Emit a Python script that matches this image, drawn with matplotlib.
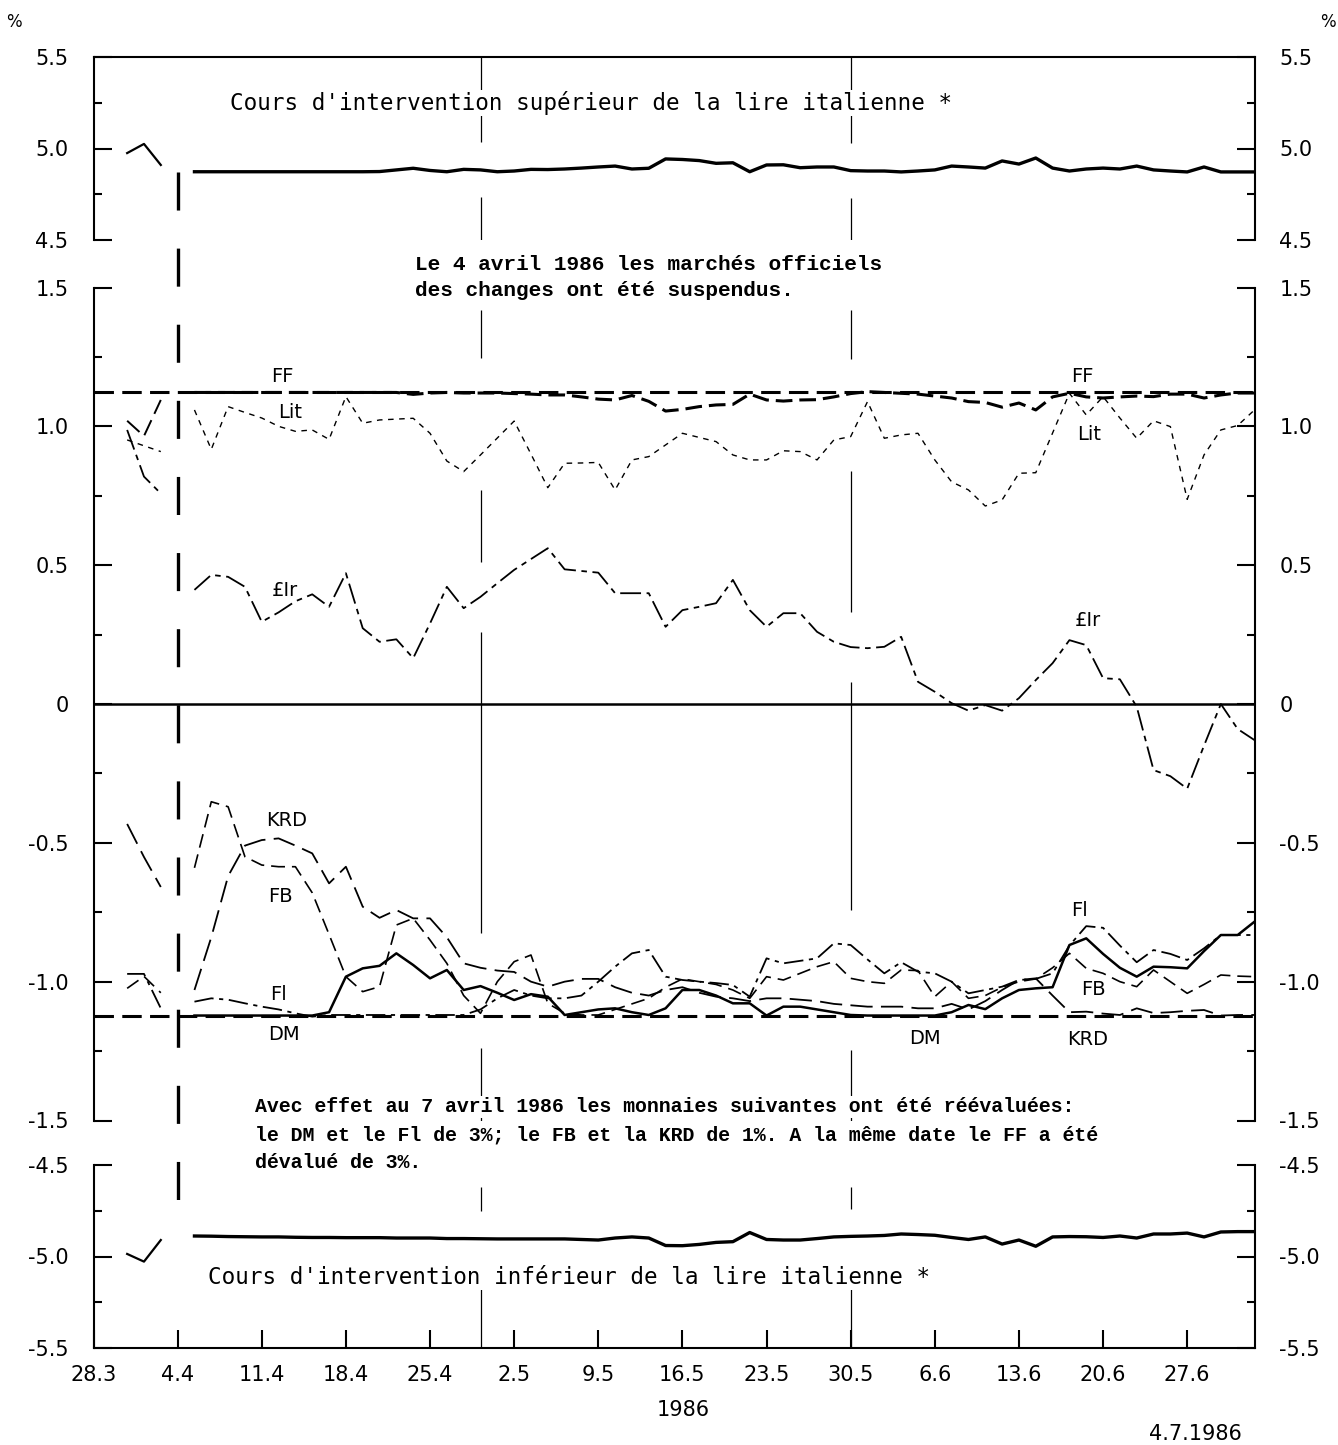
import numpy as np
import matplotlib
matplotlib.use('Agg')
import matplotlib.pyplot as plt
import matplotlib.transforms as mtransforms
from matplotlib.lines import Line2D

plt.rcParams['lines.scale_dashes'] = False
plt.rcParams['font.family'] = ['DejaVu Sans']

# ---------------- data (x = business-day index, 0 = 28.3.1986) ----------------
tick_idx = list(range(0, 70, 5))
tick_labels = ["28.3", "4.4", "11.4", "18.4", "25.4", "2.5", "9.5", "16.5",
               "23.5", "30.5", "6.6", "13.6", "20.6", "27.6"]
month_end_idx = [23, 45]
suspension_idx = 5
pre_idx = [2, 3, 4]
post_idx = list(range(6, 70))

top_yticks = [4.5, 5.0, 5.5]
top_ylabels = ["4.5", "5.0", "5.5"]
mid_yticks = [-1.5, -1.0, -0.5, 0.0, 0.5, 1.0, 1.5]
mid_ylabels = ["-1.5", "-1.0", "-0.5", "0", "0.5", "1.0", "1.5"]
bot_yticks = [-5.5, -5.0, -4.5]
bot_ylabels = ["-5.5", "-5.0", "-4.5"]
band_limit = 1.125

upper_pre = [4.975, 5.025, 4.91]
upper_post = [4.873] * 11 + [
    4.874, 4.883, 4.892, 4.880, 4.873, 4.886, 4.883, 4.873, 4.877, 4.886,
    4.885, 4.888, 4.893, 4.899, 4.904, 4.888, 4.892, 4.943, 4.940, 4.934,
    4.919, 4.922, 4.873, 4.910, 4.911, 4.895, 4.899, 4.899, 4.879, 4.877,
    4.877, 4.872, 4.877, 4.883, 4.904, 4.899, 4.893, 4.932, 4.915, 4.948,
    4.893, 4.877, 4.888, 4.893, 4.888, 4.904, 4.883, 4.877, 4.872, 4.899,
    4.872, 4.872, 4.872]
lower_pre = [-4.986, -5.028, -4.910]
lower_post = [
    -4.888, -4.889, -4.891, -4.892, -4.893, -4.893, -4.895, -4.896, -4.896, -4.897,
    -4.897, -4.897, -4.899, -4.899, -4.899, -4.902, -4.902, -4.903, -4.904, -4.904,
    -4.904, -4.904, -4.904, -4.907, -4.910, -4.899, -4.893, -4.899, -4.940, -4.941,
    -4.934, -4.923, -4.919, -4.869, -4.907, -4.910, -4.910, -4.902, -4.893, -4.890,
    -4.888, -4.885, -4.877, -4.880, -4.884, -4.896, -4.907, -4.893, -4.932, -4.910,
    -4.944, -4.893, -4.891, -4.892, -4.896, -4.888, -4.899, -4.877, -4.877, -4.872,
    -4.893, -4.866, -4.864, -4.864]

ff_pre = [1.020, 0.965, 1.095]
ff_post = [1.122] * 13 + [
    1.115, 1.120, 1.122, 1.120, 1.120, 1.120, 1.118, 1.116, 1.113, 1.113,
    1.106, 1.098, 1.095, 1.111, 1.090, 1.055, 1.061, 1.071, 1.077, 1.079,
    1.116, 1.095, 1.091, 1.095, 1.096, 1.106, 1.118, 1.125, 1.122, 1.119,
    1.116, 1.109, 1.102, 1.089, 1.086, 1.069, 1.084, 1.059, 1.106, 1.119,
    1.106, 1.102, 1.106, 1.109, 1.107, 1.116, 1.116, 1.102, 1.113, 1.120,
    1.120]
lit_pre = [0.951, 0.930, 0.909]
lit_post = [
    1.059, 0.917, 1.071, 1.050, 1.030, 1.000, 0.982, 0.987, 0.953, 1.107,
    1.011, 1.023, 1.026, 1.029, 0.975, 0.875, 0.837, 0.897, 0.958, 1.019,
    0.900, 0.779, 0.867, 0.868, 0.870, 0.771, 0.879, 0.891, 0.933, 0.975,
    0.960, 0.945, 0.897, 0.879, 0.879, 0.912, 0.909, 0.879, 0.951, 0.963,
    1.089, 0.957, 0.969, 0.975, 0.879, 0.800, 0.771, 0.713, 0.735, 0.831,
    0.833, 0.976, 1.119, 1.041, 1.107, 1.030, 0.957, 1.020, 0.999, 0.737,
    0.897, 0.987, 1.003, 1.059]
ir_pre = [0.987, 0.819, 0.758]
ir_post = [
    0.411, 0.465, 0.458, 0.422, 0.296, 0.330, 0.370, 0.395, 0.350, 0.471,
    0.273, 0.224, 0.233, 0.165, 0.290, 0.422, 0.345, 0.386, 0.435, 0.483,
    0.522, 0.561, 0.485, 0.479, 0.473, 0.399, 0.399, 0.399, 0.278, 0.338,
    0.350, 0.363, 0.447, 0.338, 0.278, 0.327, 0.327, 0.260, 0.224, 0.205,
    0.201, 0.206, 0.242, 0.080, 0.044, 0.003, -0.024, -0.004, -0.024, 0.021,
    0.086, 0.147, 0.230, 0.212, 0.093, 0.089, -0.010, -0.238, -0.260, -0.305,
    -0.150, 0.000, -0.090, -0.130]
krd_pre = [-0.432, -0.551, -0.659]
krd_post = [
    -1.03, -0.84, -0.62, -0.51, -0.49, -0.484, -0.51, -0.538, -0.646, -0.586,
    -0.73, -0.77, -0.742, -0.772, -0.772, -0.84, -0.934, -0.95, -0.96, -0.965,
    -1.0, -1.018, -1.0, -0.99, -0.99, -1.02, -1.04, -1.05, -1.03, -1.02,
    -1.04, -1.054, -1.06, -1.07, -1.06, -1.06, -1.065, -1.07, -1.08, -1.085,
    -1.09, -1.09, -1.09, -1.096, -1.096, -1.08, -1.10, -1.07, -1.03, -0.994,
    -0.988, -1.05, -1.11, -1.108, -1.115, -1.12, -1.096, -1.113, -1.11, -1.105,
    -1.102, -1.122, -1.12, -1.12]
fb_pre = [-1.024, -0.981, -1.040]
fb_post = [
    -0.59, -0.352, -0.37, -0.55, -0.58, -0.586, -0.586, -0.68, -0.83, -0.982,
    -1.036, -1.018, -0.796, -0.772, -0.85, -0.934, -1.05, -1.114, -1.0, -0.928,
    -0.904, -1.078, -1.114, -1.12, -1.12, -1.10, -1.08, -1.06, -1.02, -0.99,
    -1.0, -1.01, -1.03, -1.06, -0.982, -0.994, -0.97, -0.946, -0.928, -0.988,
    -1.0, -1.006, -0.958, -0.96, -1.054, -1.0, -1.06, -1.05, -1.02, -1.0,
    -0.99, -0.95, -0.898, -0.952, -0.97, -1.0, -1.018, -0.958, -1.0, -1.042,
    -1.01, -0.976, -0.98, -0.982]
fl_pre = [-0.972, -0.972, -1.096]
fl_post = [
    -1.072, -1.060, -1.065, -1.078, -1.09, -1.100, -1.114, -1.126] + [-1.12] * 9 + [
    -1.10, -1.06, -1.03, -1.05, -1.06, -1.06, -1.05, -1.0, -0.946, -0.898,
    -0.886, -0.982, -0.994, -1.0, -1.005, -1.012, -1.054, -0.916, -0.934, -0.925,
    -0.916, -0.862, -0.868, -0.92, -0.97, -0.93, -0.964, -0.97, -1.0, -1.042,
    -1.03, -1.018, -0.994, -0.99, -0.97, -0.87, -0.80, -0.806, -0.87, -0.93,
    -0.886, -0.90, -0.922, -0.88, -0.832, -0.832, -0.832]
dm_post = [-1.122] * 8 + [
    -1.11, -0.982, -0.952, -0.943, -0.898, -0.94, -0.988, -0.958, -1.03, -1.016,
    -1.04, -1.066, -1.045, -1.054, -1.120, -1.11, -1.10, -1.096, -1.11, -1.12,
    -1.096, -1.03, -1.03, -1.05, -1.078, -1.078, -1.122, -1.09, -1.09, -1.10,
    -1.11, -1.12, -1.122, -1.122, -1.122, -1.122, -1.122, -1.11, -1.084, -1.099,
    -1.06, -1.03, -1.024, -1.02, -0.868, -0.844, -0.90, -0.95, -0.982, -0.946,
    -0.948, -0.952, -0.89, -0.832, -0.832, -0.784]

# ---------------- figure ----------------
W, H = 1338, 1445
fig = plt.figure(figsize=(W / 100, H / 100), dpi=100)


def fx(x):
    return x / W


def fy(y):
    return 1 - y / H


L, R = 93.5, 1254.5
ax_top = fig.add_axes([fx(L), fy(240), fx(R) - fx(L), fy(57) - fy(240)])
ax_mid = fig.add_axes([fx(L), fy(1120.5), fx(R) - fx(L), fy(287.5) - fy(1120.5)])
ax_bot = fig.add_axes([fx(L), fy(1348), fx(R) - fx(L), fy(1165) - fy(1348)])

for ax in (ax_top, ax_mid, ax_bot):
    ax.set_xlim(0, 69)
    ax.patch.set_alpha(0)
    for s in ax.spines.values():
        s.set_linewidth(1.5)
    ax.tick_params(axis='y', which='both', direction='in', left=True, right=True,
                   labelleft=True, labelright=True, width=1.5, labelsize=15)
    ax.tick_params(axis='y', which='major', length=13, pad=18)
    ax.tick_params(axis='y', which='minor', length=6)

ax_top.spines['bottom'].set_visible(False)
ax_mid.spines['bottom'].set_visible(False)
ax_mid.spines['top'].set_visible(False)
ax_bot.spines['top'].set_visible(False)

ax_top.set_ylim(4.5, 5.5)
ax_top.set_yticks(top_yticks, top_ylabels)
ax_top.set_yticks([4.75, 5.25], minor=True)
ax_mid.set_ylim(-1.5, 1.5)
ax_mid.set_yticks(mid_yticks, mid_ylabels)
ax_mid.set_yticks([-1.25, -0.75, -0.25, 0.25, 0.75, 1.25], minor=True)
ax_bot.set_ylim(-5.5, -4.5)
ax_bot.set_yticks(bot_yticks, bot_ylabels)
ax_bot.set_yticks([-5.25, -4.75], minor=True)

for ax in (ax_top, ax_mid):
    ax.set_xticks([])
ax_bot.set_xticks(tick_idx, tick_labels)
ax_bot.tick_params(axis='x', direction='in', length=13, width=1.5, pad=12, labelsize=15)

# ---------------- styles ----------------
band_style = dict(color='black', lw=2.2, ls=(0, (14, 6)), dash_capstyle='butt')
styles = {
    'FF': dict(color='black', lw=2.2, ls=(0, (12, 5))),
    'Lit': dict(color='black', lw=1.0, ls=(0, (4, 4))),
    'Ir': dict(color='black', lw=1.3, ls=(0, (15, 4, 4, 4))),
    'KRD': dict(color='black', lw=1.3, ls=(0, (16, 6))),
    'FB': dict(color='black', lw=1.2, ls=(0, (10, 5))),
    'Fl': dict(color='black', lw=1.3, ls=(0, (14, 4, 3, 4))),
    'DM': dict(color='black', lw=1.8, ls='-'),
}

# reference lines in middle panel
ax_mid.axhline(0, color='black', lw=1.8, zorder=2)
ax_mid.axhline(band_limit, zorder=2, **band_style)
ax_mid.axhline(-band_limit, zorder=2, **band_style)

# intervention limits
ax_top.plot(pre_idx, upper_pre, color='black', lw=1.6, zorder=3)
ax_top.plot(post_idx, upper_post, color='black', lw=2.4, zorder=3)
ax_bot.plot(pre_idx, lower_pre, color='black', lw=1.6, zorder=3)
ax_bot.plot(post_idx, lower_post, color='black', lw=2.4, zorder=3)

series = {
    'FF': (ff_pre, ff_post), 'Lit': (lit_pre, lit_post), 'Ir': (ir_pre, ir_post),
    'KRD': (krd_pre, krd_post), 'FB': (fb_pre, fb_post), 'Fl': (fl_pre, fl_post),
    'DM': (None, dm_post),
}
for name, (pre, post) in series.items():
    if pre is not None:
        st = dict(styles[name])
        st['lw'] = min(st['lw'], 1.4)
        ax_mid.plot(pre_idx, pre, zorder=3, **st)
    ax_mid.plot(post_idx, post, zorder=3, **styles[name])


# month-end vertical lines, broken where data lines cross them
def broken_vline(ax, xi, crossings, gap, lo, hi):
    gaps = sorted((c - gap, c + gap) for c in crossings)
    segs = []
    cur = lo
    for a, b in gaps:
        if a > cur:
            segs.append((cur, min(a, hi)))
        cur = max(cur, b)
    if cur < hi:
        segs.append((cur, hi))
    for a, b in segs:
        if b > a:
            ax.plot([xi, xi], [a, b], color='black', lw=0.9, zorder=1, solid_capstyle='butt')


for xi in month_end_idx:
    k = post_idx.index(xi)
    broken_vline(ax_top, xi, [upper_post[k]], 0.15, 4.5, 5.5)
    broken_vline(ax_mid, xi, [s[1][k] for s in series.values()], 0.125, -1.5, 1.42)
    broken_vline(ax_bot, xi, [lower_post[k]], 0.15, -5.5, -4.62)

# suspension line (4 April 1986)
blend = mtransforms.blended_transform_factory(ax_mid.transData, fig.transFigure)
susp = Line2D([suspension_idx, suspension_idx], [fy(172), fy(1200)], transform=blend,
              color='black', lw=2.4, ls=(0, (27.4, 27.4)), dash_capstyle='butt')
fig.add_artist(susp)

# series labels
lab = dict(fontsize=14, ha='center', va='center', family='DejaVu Sans')
for (xi, yv, s) in [(11.2, 1.18, 'FF'), (58.8, 1.18, 'FF'), (11.7, 1.05, 'Lit'),
                    (59.2, 0.969, 'Lit'), (11.4, 0.41, '£Ir'), (59.1, 0.30, '£Ir'),
                    (11.5, -0.418, 'KRD'), (11.1, -0.695, 'FB'), (59.4, -1.03, 'FB'),
                    (11.0, -1.048, 'Fl'), (58.6, -0.742, 'Fl'), (11.3, -1.192, 'DM'),
                    (49.4, -1.203, 'DM'), (59.1, -1.21, 'KRD')]:
    ax_mid.text(xi, yv, s, zorder=5, **lab)

# annotations
white = dict(facecolor='white', edgecolor='none', pad=1)
fig.text(fx(230), fy(103), "Cours d'intervention supérieur de la lire italienne *",
         family='DejaVu Sans Mono', fontsize=16.3, ha='left', va='center', bbox=white)
fig.text(fx(208), fy(1277), "Cours d'intervention inférieur de la lire italienne *",
         family='DejaVu Sans Mono', fontsize=16.3, ha='left', va='center', bbox=white)
fig.text(fx(415), fy(265), "Le 4 avril 1986 les marchés officiels",
         family='Liberation Mono', weight='bold', fontsize=15.2, ha='left', va='center', bbox=white)
fig.text(fx(415), fy(291), "des changes ont été suspendus.",
         family='Liberation Mono', weight='bold', fontsize=15.2, ha='left', va='center', bbox=white)
fig.text(fx(255), fy(1107), "Avec effet au 7 avril 1986 les monnaies suivantes ont été réévaluées:",
         family='Liberation Mono', weight='bold', fontsize=14.3, ha='left', va='center', bbox=white)
fig.text(fx(255), fy(1135), "le DM et le Fl de 3%; le FB et la KRD de 1%. A la même date le FF a été",
         family='Liberation Mono', weight='bold', fontsize=14.3, ha='left', va='center', bbox=white)
fig.text(fx(255), fy(1163), "dévalué de 3%.",
         family='Liberation Mono', weight='bold', fontsize=14.3, ha='left', va='center', bbox=white)

fig.text(fx(14), fy(22), "%", fontsize=12, ha='center', va='center')
fig.text(fx(1328), fy(22), "%", fontsize=12, ha='center', va='center')
fig.text(fx(683), fy(1410), "1986", fontsize=15, ha='center', va='center')
fig.text(fx(1195), fy(1434), "4.7.1986", fontsize=15, ha='center', va='center')

fig.savefig('out.png', dpi=100, facecolor='white')
